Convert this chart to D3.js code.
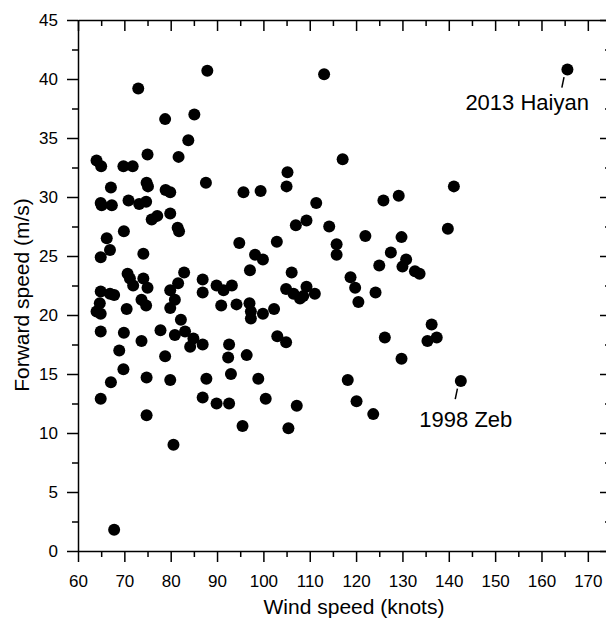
<!DOCTYPE html>
<html>
<head>
<meta charset="utf-8">
<script src="https://cdn.jsdelivr.net/npm/d3@7"></script>
<style>
  body { margin: 0; background: #fff; }
  svg { display: block; font-family: "Liberation Sans", Arial, sans-serif; }
  .axis path, .axis line { stroke: #000; stroke-width: 1.5; }
  .axis text { font-size: 17px; fill: #000; }
</style>
</head>
<body>
<div id="chart"></div>
<script>
// wind speed (knots) and forward speed (m/s), one entry per storm
const windSpeed = [
  73.0, 78.8, 85.1, 83.8, 81.7, 75.0, 64.0, 65.0, 69.8, 71.8,
  67.1, 74.8, 75.1, 78.9, 79.9, 87.9, 87.6, 64.9, 65.1, 67.3,
  70.9, 73.2, 74.7, 75.9, 77.1, 79.9, 81.5, 81.8, 66.2, 69.9,
  64.9, 66.9, 74.1, 70.7, 71.2, 71.9, 74.1, 75.0, 82.9, 81.6,
  79.9, 86.9, 86.9, 64.9, 66.9, 67.8, 73.7, 74.7, 80.9, 64.7,
  64.0, 64.9, 70.5, 79.9, 82.2, 64.9, 69.9, 77.8, 80.9, 83.1,
  84.9, 84.2, 86.9, 73.7, 68.9, 78.8, 69.8, 74.8, 79.9, 87.7,
  67.1, 64.9, 86.9, 74.8, 80.6, 67.8, 113.1, 117.1, 95.7, 99.4,
  105.2, 105.0, 111.4, 107.0, 109.3, 114.2, 94.8, 102.9, 115.8, 98.2,
  99.9, 115.8, 97.1, 106.1, 89.9, 91.4, 93.2, 104.9, 106.5, 107.9,
  109.3, 111.1, 108.6, 90.9, 94.2, 97.0, 97.3, 97.3, 99.9, 102.3,
  103.0, 104.9, 92.6, 92.4, 96.4, 93.0, 98.9, 89.9, 92.6, 100.5,
  107.2, 118.2, 95.5, 105.4, 141.1, 125.9, 129.2, 139.8, 122.0, 129.8,
  127.5, 125.0, 130.8, 130.0, 132.7, 133.7, 118.8, 119.8, 120.5, 124.2,
  136.3, 137.4, 135.4, 126.2, 129.8, 120.1, 123.7, 142.6, 165.6
];
const forwardSpeed = [
  39.2, 36.6, 37.0, 34.8, 33.4, 33.6, 33.1, 32.6, 32.6, 32.6,
  30.8, 31.2, 30.9, 30.6, 30.4, 40.7, 31.2, 29.5, 29.3, 29.3,
  29.7, 29.4, 29.6, 28.1, 28.4, 28.6, 27.4, 27.1, 26.5, 27.1,
  24.9, 25.5, 25.2, 23.5, 23.1, 22.5, 23.1, 22.3, 23.6, 22.7,
  22.1, 23.0, 21.9, 22.0, 21.8, 21.7, 21.3, 20.8, 21.3, 21.0,
  20.3, 20.1, 20.5, 20.6, 19.6, 18.6, 18.5, 18.7, 18.3, 18.6,
  18.0, 17.3, 17.5, 17.8, 17.0, 16.5, 15.4, 14.7, 14.5, 14.6,
  14.3, 12.9, 13.0, 11.5, 9.0, 1.8, 40.4, 33.2, 30.4, 30.5,
  32.1, 30.9, 29.5, 27.6, 28.0, 27.5, 26.1, 26.2, 26.0, 25.1,
  24.7, 25.1, 23.8, 23.6, 22.5, 22.1, 22.5, 22.2, 21.8, 21.4,
  22.4, 21.8, 21.6, 20.8, 20.9, 21.0, 20.3, 19.7, 20.1, 20.5,
  18.2, 17.7, 17.5, 16.4, 16.6, 15.0, 14.6, 12.5, 12.5, 12.9,
  12.3, 14.5, 10.6, 10.4, 30.9, 29.7, 30.1, 27.3, 26.7, 26.6,
  25.3, 24.2, 24.7, 24.1, 23.7, 23.5, 23.2, 22.3, 21.1, 21.9,
  19.2, 18.1, 17.8, 18.1, 16.3, 12.7, 11.6, 14.4, 40.8
];

const xTicks = [60, 70, 80, 90, 100, 110, 120, 130, 140, 150, 160, 170];
const yTicks = [0, 5, 10, 15, 20, 25, 30, 35, 40, 45];
const xMinor = [65, 75, 85, 95, 105, 115, 125, 135, 145, 155, 165, 175];
const yMinor = [2.5, 7.5, 12.5, 17.5, 22.5, 27.5, 32.5, 37.5, 42.5];

const noteNames = ["2013 Haiyan", "1998 Zeb"];
const noteWind = [165.6, 142.6];
const noteForward = [40.8, 14.4];

const width = 606, height = 620;
const margin = { top: 20, right: -5, bottom: 69, left: 78 };

const svg = d3.select("#chart").append("svg")
  .attr("width", width)
  .attr("height", height);

const x = d3.scaleLinear()
  .domain([60, 175])
  .range([margin.left, width - margin.right]);

const y = d3.scaleLinear()
  .domain([0, 45])
  .range([height - margin.bottom, margin.top]);

const bottom = height - margin.bottom;
const right = x(175);

// major axes with labels (bottom / left, ticks outward)
svg.append("g")
  .attr("class", "axis")
  .attr("transform", `translate(0,${bottom})`)
  .call(d3.axisBottom(x).tickValues(xTicks).tickSize(11).tickSizeOuter(0).tickPadding(5))
  .call(g => g.selectAll("text").attr("dy", "1.15em"));

svg.append("g")
  .attr("class", "axis")
  .attr("transform", `translate(0,${bottom})`)
  .call(d3.axisBottom(x).tickValues(xMinor).tickSize(6).tickSizeOuter(0).tickFormat(""))
  .call(g => g.select(".domain").remove());

svg.append("g")
  .attr("class", "axis")
  .attr("transform", `translate(${margin.left},0)`)
  .call(d3.axisLeft(y).tickValues(yTicks).tickSize(11).tickSizeOuter(0).tickPadding(9));

svg.append("g")
  .attr("class", "axis")
  .attr("transform", `translate(${margin.left},0)`)
  .call(d3.axisLeft(y).tickValues(yMinor).tickSize(6).tickSizeOuter(0).tickFormat(""))
  .call(g => g.select(".domain").remove());

// mirror axes on top / right, ticks inward
svg.append("g")
  .attr("class", "axis")
  .attr("transform", `translate(0,${margin.top})`)
  .call(d3.axisBottom(x).tickValues(xTicks).tickSize(11).tickSizeOuter(0).tickFormat(""));

svg.append("g")
  .attr("class", "axis")
  .attr("transform", `translate(0,${margin.top})`)
  .call(d3.axisBottom(x).tickValues(xMinor).tickSize(6).tickSizeOuter(0).tickFormat(""))
  .call(g => g.select(".domain").remove());

svg.append("g")
  .attr("class", "axis")
  .attr("transform", `translate(${right},0)`)
  .call(d3.axisLeft(y).tickValues(yTicks).tickSize(11).tickSizeOuter(0).tickFormat(""));

svg.append("g")
  .attr("class", "axis")
  .attr("transform", `translate(${right},0)`)
  .call(d3.axisLeft(y).tickValues(yMinor).tickSize(6).tickSizeOuter(0).tickFormat(""))
  .call(g => g.select(".domain").remove());

// points
svg.append("g")
  .selectAll("circle")
  .data(windSpeed)
  .join("circle")
  .attr("cx", d => x(d))
  .attr("cy", (d, i) => y(forwardSpeed[i]))
  .attr("r", 6)
  .attr("fill", "#000");

// annotations
const notes = noteNames.map((name, i) => ({ name, wx: noteWind[i], fy: noteForward[i] }));

svg.append("g")
  .selectAll("line")
  .data(notes)
  .join("line")
  .attr("x1", d => x(d.wx) - 3.4)
  .attr("y1", d => y(d.fy) + 7.5)
  .attr("x2", d => x(d.wx) - 5.6)
  .attr("y2", d => y(d.fy) + 18)
  .attr("stroke", "#000")
  .attr("stroke-width", 1.5);

svg.append("g")
  .selectAll("text")
  .data(notes)
  .join("text")
  .attr("x", (d, i) => i === 0 ? x(d.wx) + 21.5 : x(d.wx) - 41.5)
  .attr("y", (d, i) => y(d.fy) + (i === 0 ? 40.7 : 46))
  .attr("text-anchor", (d, i) => i === 0 ? "end" : "start")
  .style("font-size", "22px")
  .text(d => d.name);

// axis titles
svg.append("text")
  .attr("x", 354)
  .attr("y", 614)
  .attr("text-anchor", "middle")
  .style("font-size", "21px")
  .text("Wind speed (knots)");

svg.append("text")
  .attr("transform", `translate(28.5,295) rotate(-90)`)
  .attr("text-anchor", "middle")
  .style("font-size", "21px")
  .text("Forward speed (m/s)");
</script>
</body>
</html>
